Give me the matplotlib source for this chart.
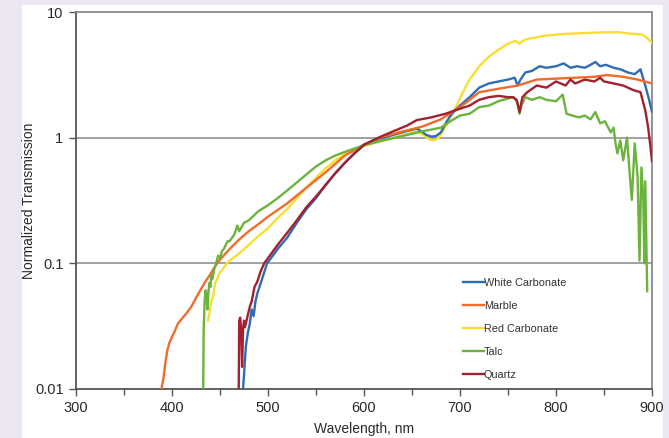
import matplotlib
matplotlib.use("Agg")
import matplotlib.pyplot as plt
from matplotlib.patches import Rectangle

plt.rcParams['font.family'] = ['Liberation Sans', 'DejaVu Sans']

# ---------------- data ----------------
wl_wc = [474, 475, 476, 477, 479, 481, 483, 485, 487, 489, 492, 495, 499, 505, 510, 520, 530, 540,
         550, 560, 570, 580, 590, 600, 615, 630, 645, 655, 660, 665, 670, 675, 680, 685, 690, 695,
         700, 710, 720, 730, 740, 750, 757, 760, 763, 768, 775, 783, 790, 800, 808, 815, 822, 830,
         836, 841, 846, 852, 860, 867, 875, 882, 888, 893, 897, 900]
t_wc = [0.01, 0.013, 0.017, 0.022, 0.028, 0.033, 0.043, 0.038, 0.05, 0.058, 0.068, 0.08, 0.1, 0.115,
        0.13, 0.16, 0.21, 0.27, 0.33, 0.42, 0.52, 0.63, 0.75, 0.87, 0.97, 1.05, 1.13, 1.18, 1.12,
        1.05, 1.02, 1.03, 1.1, 1.3, 1.5, 1.65, 1.8, 2.1, 2.5, 2.7, 2.8, 2.9, 3.0, 2.6, 2.9, 3.3,
        3.4, 3.7, 3.6, 3.7, 3.9, 3.6, 3.7, 3.6, 3.8, 4.0, 3.7, 3.8, 3.6, 3.5, 3.3, 3.2, 3.5, 2.6,
        2.0, 1.6]

wl_m = [389, 391, 393, 395, 397, 400, 403, 406, 410, 415, 420, 425, 430, 435, 440, 445, 450, 460,
        470, 480, 490, 500, 520, 540, 560, 580, 600, 620, 640, 660, 680, 700, 710, 720, 740, 760,
        780, 800, 820, 840, 853, 870, 885, 900]
t_m = [0.01, 0.012, 0.016, 0.02, 0.023, 0.026, 0.029, 0.033, 0.036, 0.04, 0.045, 0.053, 0.062,
       0.072, 0.082, 0.095, 0.107, 0.13, 0.155, 0.18, 0.205, 0.235, 0.3, 0.4, 0.53, 0.72, 0.88,
       1.02, 1.12, 1.22, 1.4, 1.75, 2.0, 2.3, 2.45, 2.6, 2.9, 2.95, 3.0, 3.05, 3.15, 3.05, 2.9, 2.7]

wl_rc = [437.5, 439, 441, 443, 445, 447, 450, 453, 457, 460, 470, 480, 490, 500, 510, 520, 530, 540,
         550, 560, 570, 580, 590, 600, 620, 640, 655, 662, 668, 673, 678, 683, 688, 693, 698, 703,
         710, 720, 730, 740, 750, 758, 762, 767, 775, 790, 810, 830, 850, 865, 880, 890, 895, 900]
t_rc = [0.035, 0.04, 0.05, 0.055, 0.07, 0.075, 0.085, 0.09, 0.1, 0.105, 0.12, 0.14, 0.165, 0.19,
        0.23, 0.27, 0.33, 0.4, 0.48, 0.57, 0.66, 0.74, 0.8, 0.86, 0.95, 1.05, 1.12, 1.05, 0.97,
        0.95, 1.0, 1.15, 1.35, 1.6, 1.9, 2.3, 2.9, 3.7, 4.4, 5.0, 5.6, 5.9, 5.6, 6.0, 6.2, 6.5,
        6.7, 6.8, 6.9, 6.9, 6.7, 6.6, 6.2, 5.7]

wl_t = [432.5, 433, 434, 435, 436, 437, 438, 439, 440, 441, 442, 444, 446, 448, 450, 452, 454, 456,
        458, 460, 465, 468, 470, 475, 480, 490, 500, 510, 520, 530, 540, 550, 560, 570, 580, 590,
        600, 620, 640, 660, 680, 690, 700, 710, 720, 730, 740, 750, 756, 760, 762, 764, 768, 775,
        783, 790, 800, 807, 811, 817, 824, 830, 836, 841, 846, 851, 857, 860, 862, 864, 867, 870,
        874, 877, 879, 882, 885, 887, 889, 891, 892, 893, 895]
t_t = [0.01, 0.03, 0.05, 0.061, 0.055, 0.043, 0.06, 0.07, 0.065, 0.08, 0.075, 0.09, 0.1, 0.115,
       0.11, 0.125, 0.13, 0.14, 0.15, 0.15, 0.17, 0.2, 0.18, 0.21, 0.22, 0.26, 0.29, 0.33, 0.38,
       0.44, 0.51, 0.59, 0.66, 0.72, 0.77, 0.82, 0.87, 0.95, 1.03, 1.12, 1.2, 1.35, 1.5, 1.55,
       1.75, 1.8, 1.95, 2.05, 2.1, 1.9, 1.55, 1.8, 2.1, 2.0, 2.1, 2.0, 1.95, 2.2, 1.55, 1.5, 1.45,
       1.5, 1.4, 1.6, 1.3, 1.35, 1.1, 1.2, 0.9, 0.75, 0.95, 0.66, 1.0, 0.49, 0.32, 0.9, 0.49,
       0.105, 0.58, 0.32, 0.1, 0.45, 0.06]

wl_q = [469.5, 470, 471, 472, 473, 474, 475, 476, 478, 481, 483, 486, 489, 492, 496, 500, 510, 520,
        530, 540, 550, 560, 570, 580, 590, 600, 615, 630, 645, 655, 670, 685, 700, 710, 720, 730,
        740, 750, 755, 759, 762, 765, 770, 780, 790, 800, 810, 815, 820, 830, 840, 846, 850, 860,
        870, 880, 888, 893, 896, 898, 900]
t_q = [0.01, 0.035, 0.037, 0.03, 0.015, 0.03, 0.035, 0.031, 0.036, 0.045, 0.05, 0.065, 0.072, 0.085,
       0.1, 0.11, 0.14, 0.175, 0.22, 0.28, 0.34, 0.42, 0.52, 0.63, 0.75, 0.88, 1.0, 1.12, 1.25,
       1.38, 1.45, 1.55, 1.7, 1.8, 2.0, 2.1, 2.15, 2.1, 2.1, 2.0, 1.6, 2.1, 2.3, 2.6, 2.5, 2.8,
       2.6, 2.9, 2.7, 2.9, 2.8, 3.0, 2.8, 2.7, 2.6, 2.4, 2.3, 1.65, 1.2, 0.9, 0.65]

series_names = ["White Carbonate", "Marble", "Red Carbonate", "Talc", "Quartz"]
x_ticks = [300, 400, 500, 600, 700, 800, 900]
y_ticks = [0.01, 0.1, 1, 10]
y_tick_labels = ["0.01", "0.1", "1", "10"]

# ---------------- figure ----------------
W, H = 669, 438
fig = plt.figure(figsize=(W / 100, H / 100), dpi=100)
fig.patch.set_facecolor('#ebe6f1')
fig.add_artist(Rectangle((22 / W, 0), (663 - 22) / W, (H - 5) / H, transform=fig.transFigure,
                         facecolor='white', edgecolor='none', zorder=-1))

ax = fig.add_axes([76 / W, 1 - 389 / H, (652 - 76) / W, (389 - 12) / H])
ax.set_facecolor('white')

colors = ['#2f6db3', '#f26b2b', '#f8df2e', '#6cb33e', '#a2202f']
data = [(wl_wc, t_wc), (wl_m, t_m), (wl_rc, t_rc), (wl_t, t_t), (wl_q, t_q)]
draw_order = [2, 0, 1, 3, 4]
lines = {}
for i in draw_order:
    x, y = data[i]
    ln, = ax.plot(x, y, color=colors[i], lw=1.7, label=series_names[i], zorder=3)
    lines[i] = ln

ax.set_yscale('log')
ax.set_xlim(300, 900)
ax.set_ylim(0.01, 10)
ax.set_yticks(y_ticks)
ax.set_yticklabels(y_tick_labels)
ax.yaxis.set_minor_locator(matplotlib.ticker.NullLocator())
ax.set_xticks(x_ticks)
ax.set_xticks([350, 450, 550, 650, 750, 850], minor=True)

for yv in [0.1, 1]:
    ax.axhline(yv, color='#9a9a9a', lw=1.3, zorder=1)

for s in ['left', 'bottom']:
    ax.spines[s].set_color('#555555')
    ax.spines[s].set_linewidth(1.3)
for s in ['top', 'right']:
    ax.spines[s].set_color('#8a8a8a')
    ax.spines[s].set_linewidth(1.3)

ax.tick_params(axis='both', which='major', direction='out', length=5, width=1.0,
               color='#555555', labelsize=10.5, labelcolor='#2a2a2a', pad=4)
ax.tick_params(axis='x', which='minor', direction='out', length=4, width=1.0, color='#555555')

ax.set_xlabel("Wavelength, nm", fontsize=10, color='#2a2a2a', labelpad=5)
ax.set_ylabel("Normalized Transmission", fontsize=10, color='#2a2a2a')
ax.yaxis.set_label_coords(-0.0694, 0.5)

handles = [lines[i] for i in range(5)]
leg = ax.legend(handles, series_names, loc='upper left', bbox_to_anchor=(0.672, 0.295),
                frameon=False, fontsize=7.8, handlelength=1.9, handletextpad=0.0,
                labelspacing=1.2, borderpad=0, borderaxespad=0)
for t in leg.get_texts():
    t.set_color('#333333')

# right page border that covers part of the last tick label
fig.add_artist(Rectangle((663 / W, 0), (W - 663) / W, 1, transform=fig.transFigure,
                         facecolor='#ebe6f1', edgecolor='none', zorder=10))

fig.savefig('out.png', dpi=100)
